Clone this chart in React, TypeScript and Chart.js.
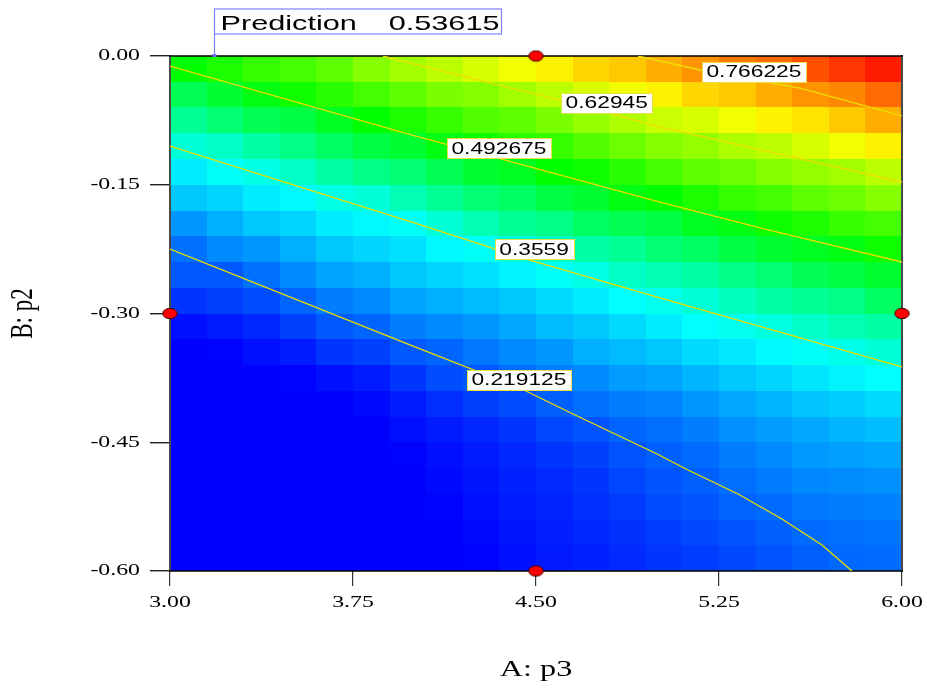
import { useEffect, useRef } from "react";
import { Chart, registerables } from "chart.js";

Chart.register(...registerables);

// Factor ranges and axis ticks
const A_RANGE = [3, 6];
const B_RANGE = [-0.6, 0];
const A_TICKS = [3.0, 3.75, 4.5, 5.25, 6.0];
const B_TICKS = [-0.6, -0.45, -0.3, -0.15, 0];

// Predicted response per grid cell, one row per B band (top band first),
// columns run from A = 3.00 to A = 6.00.
const zB015 = [0.50, 0.52, 0.54, 0.55, 0.57, 0.60, 0.62, 0.64, 0.66, 0.68, 0.70, 0.72, 0.73, 0.75, 0.77, 0.79, 0.80, 0.82, 0.84, 0.86];
const zB045 = [0.45, 0.47, 0.49, 0.51, 0.53, 0.55, 0.57, 0.59, 0.60, 0.62, 0.64, 0.66, 0.68, 0.70, 0.72, 0.73, 0.75, 0.77, 0.78, 0.80];
const zB075 = [0.41, 0.43, 0.45, 0.46, 0.48, 0.50, 0.52, 0.54, 0.56, 0.57, 0.59, 0.61, 0.63, 0.65, 0.66, 0.68, 0.70, 0.71, 0.73, 0.75];
const zB105 = [0.37, 0.38, 0.40, 0.42, 0.44, 0.46, 0.47, 0.49, 0.51, 0.53, 0.54, 0.56, 0.58, 0.60, 0.61, 0.63, 0.64, 0.66, 0.68, 0.70];
const zB135 = [0.33, 0.35, 0.36, 0.38, 0.40, 0.42, 0.43, 0.45, 0.47, 0.48, 0.50, 0.51, 0.53, 0.55, 0.57, 0.58, 0.60, 0.61, 0.62, 0.64];
const zB165 = [0.30, 0.31, 0.33, 0.34, 0.36, 0.37, 0.39, 0.41, 0.43, 0.44, 0.46, 0.47, 0.49, 0.50, 0.52, 0.54, 0.55, 0.57, 0.58, 0.60];
const zB195 = [0.26, 0.28, 0.30, 0.31, 0.33, 0.34, 0.35, 0.37, 0.39, 0.41, 0.42, 0.44, 0.45, 0.46, 0.48, 0.49, 0.51, 0.52, 0.54, 0.55];
const zB225 = [0.23, 0.25, 0.26, 0.28, 0.30, 0.31, 0.32, 0.34, 0.35, 0.37, 0.38, 0.40, 0.41, 0.43, 0.44, 0.46, 0.47, 0.48, 0.49, 0.51];
const zB255 = [0.21, 0.21, 0.23, 0.25, 0.27, 0.28, 0.30, 0.31, 0.32, 0.335, 0.35, 0.36, 0.38, 0.39, 0.40, 0.42, 0.43, 0.45, 0.46, 0.47];
const zB285 = [0.18, 0.19, 0.20, 0.22, 0.24, 0.25, 0.27, 0.28, 0.29, 0.30, 0.315, 0.33, 0.345, 0.355, 0.37, 0.385, 0.40, 0.41, 0.42, 0.44];
const zB315 = [0.15, 0.16, 0.17, 0.19, 0.21, 0.22, 0.24, 0.25, 0.26, 0.275, 0.29, 0.30, 0.315, 0.33, 0.345, 0.355, 0.365, 0.378, 0.39, 0.40];
const zB345 = [0.13, 0.14, 0.15, 0.16, 0.18, 0.19, 0.21, 0.22, 0.235, 0.25, 0.26, 0.28, 0.29, 0.30, 0.315, 0.327, 0.34, 0.35, 0.358, 0.37];
const zB375 = [0.12, 0.12, 0.13, 0.14, 0.15, 0.16, 0.18, 0.20, 0.21, 0.225, 0.24, 0.25, 0.265, 0.27, 0.285, 0.30, 0.31, 0.325, 0.335, 0.345];
const zB405 = [0.11, 0.11, 0.12, 0.12, 0.13, 0.145, 0.16, 0.175, 0.19, 0.20, 0.215, 0.23, 0.24, 0.245, 0.26, 0.275, 0.285, 0.298, 0.305, 0.315];
const zB435 = [0.10, 0.10, 0.11, 0.11, 0.12, 0.13, 0.15, 0.16, 0.17, 0.18, 0.195, 0.205, 0.22, 0.228, 0.24, 0.255, 0.265, 0.275, 0.285, 0.292];
const zB465 = [0.10, 0.10, 0.10, 0.11, 0.11, 0.12, 0.14, 0.15, 0.16, 0.17, 0.18, 0.19, 0.205, 0.215, 0.225, 0.24, 0.25, 0.262, 0.268, 0.272];
const zB495 = [0.09, 0.09, 0.10, 0.10, 0.11, 0.11, 0.13, 0.145, 0.155, 0.165, 0.172, 0.18, 0.195, 0.207, 0.215, 0.228, 0.237, 0.248, 0.252, 0.256];
const zB525 = [0.09, 0.09, 0.09, 0.10, 0.10, 0.11, 0.12, 0.14, 0.15, 0.16, 0.167, 0.175, 0.185, 0.199, 0.207, 0.218, 0.226, 0.236, 0.24, 0.243];
const zB555 = [0.08, 0.09, 0.09, 0.09, 0.10, 0.10, 0.12, 0.135, 0.145, 0.155, 0.162, 0.17, 0.178, 0.188, 0.197, 0.207, 0.216, 0.226, 0.23, 0.233];
const zB585 = [0.08, 0.08, 0.09, 0.09, 0.09, 0.10, 0.11, 0.13, 0.14, 0.15, 0.158, 0.165, 0.172, 0.18, 0.188, 0.197, 0.206, 0.216, 0.223, 0.225];

const responseRows = [
  zB015, zB045, zB075, zB105, zB135, zB165, zB195, zB225, zB255, zB285,
  zB315, zB345, zB375, zB405, zB435, zB465, zB495, zB525, zB555, zB585,
];

// Contour levels and their traced paths (A, B)
const contourLevels = [0.219125, 0.3559, 0.492675, 0.62945, 0.766225];

const contour1A = [3.0, 4.004, 4.434, 4.66, 4.988, 5.123, 5.328, 5.508, 5.672, 5.795];
const contour1B = [-0.2249, -0.339, -0.3868, -0.4183, -0.4625, -0.4823, -0.5103, -0.5394, -0.5697, -0.6];
const contour2A = [3.0, 4.004, 4.475, 5.008, 6.0];
const contour2B = [-0.1049, -0.1946, -0.2377, -0.2819, -0.3623];
const contour3A = [3.0, 4.004, 4.34, 5.008, 5.451, 6.0];
const contour3B = [-0.0117, -0.0932, -0.1188, -0.1701, -0.2027, -0.24];
const contour4A = [3.873, 3.984, 4.598, 5.008, 6.0];
const contour4B = [0, -0.0082, -0.0513, -0.0827, -0.1468];
const contour5A = [4.918, 5.172, 5.582, 6.0];
const contour5B = [0, -0.0163, -0.0373, -0.0699];

const contourPathsA = [contour1A, contour2A, contour3A, contour4A, contour5A];
const contourPathsB = [contour1B, contour2B, contour3B, contour4B, contour5B];

// Where each contour's value label sits (A, B)
const labelA = [4.43, 4.492, 4.348, 4.79, 5.393];
const labelB = [-0.3771, -0.2251, -0.1075, -0.0544, -0.0181];

// Design points
const designA = [4.5, 3.0, 6.0, 4.5];
const designB = [0, -0.3, -0.3, -0.6];

// Prediction flag
const predictionA = 3.18;
const predictionB = 0;
const predictionValue = 0.53615;

const X_TITLE = "A: p3";
const Y_TITLE = "B: p2";

// Colour ramp: blue -> cyan -> green -> yellow -> red
const rampValues = [0.138, 0.345, 0.5, 0.69, 0.88];
const rampColors = [
  [0, 0, 255],
  [0, 255, 255],
  [0, 255, 0],
  [255, 255, 0],
  [255, 0, 0],
];

function surfaceColor(v: number): string {
  if (v <= rampValues[0]) return `rgb(${rampColors[0].join(",")})`;
  const last = rampValues.length - 1;
  if (v >= rampValues[last]) return `rgb(${rampColors[last].join(",")})`;
  for (let k = 0; k < last; k++) {
    if (v <= rampValues[k + 1]) {
      const t = (v - rampValues[k]) / (rampValues[k + 1] - rampValues[k]);
      const c0 = rampColors[k];
      const c1 = rampColors[k + 1];
      const c = c0.map((ch, n) => Math.round(ch + (c1[n] - ch) * t));
      return `rgb(${c.join(",")})`;
    }
  }
  return "rgb(255,0,0)";
}

function drawText(
  ctx: CanvasRenderingContext2D,
  text: string,
  x: number,
  y: number,
  font: string,
  align: CanvasTextAlign,
  baseline: CanvasTextBaseline,
  sx: number,
  rotated = false
) {
  ctx.save();
  ctx.font = font;
  ctx.textAlign = align;
  ctx.textBaseline = baseline;
  ctx.fillStyle = "#000";
  ctx.translate(x, y);
  ctx.scale(sx, 1);
  if (rotated) ctx.rotate(-Math.PI / 2);
  ctx.fillText(text, 0, 0);
  ctx.restore();
}

const AXIS_FONT = '17px "Liberation Serif", "Times New Roman", serif';
const TITLE_FONT = '23px "Liberation Serif", "Times New Roman", serif';
const LABEL_FONT = '17px "Liberation Sans", Arial, sans-serif';
const FLAG_FONT = '21px "Liberation Sans", Arial, sans-serif';
const SERIF_SX = 1.4;
const LABEL_SX = 1.34;
const FLAG_SX = 1.46;

function fmt(v: number): string {
  return (Math.abs(v) < 1e-9 ? 0 : v).toFixed(2);
}

const surfacePlugin = {
  id: "responseSurface",
  beforeDatasetsDraw(chart: any) {
    const { ctx, chartArea: ca } = chart;
    const xs = chart.scales.x;
    const ys = chart.scales.y;
    const nRows = responseRows.length;
    const bSpan = B_RANGE[1] - B_RANGE[0];
    const aSpan = A_RANGE[1] - A_RANGE[0];
    ctx.save();
    responseRows.forEach((row, j) => {
      const nCols = row.length;
      const y0 = Math.round(ys.getPixelForValue(B_RANGE[1] - (j * bSpan) / nRows));
      const y1 = Math.round(ys.getPixelForValue(B_RANGE[1] - ((j + 1) * bSpan) / nRows));
      row.forEach((v, i) => {
        const x0 = Math.round(xs.getPixelForValue(A_RANGE[0] + (i * aSpan) / nCols));
        const x1 = Math.round(xs.getPixelForValue(A_RANGE[0] + ((i + 1) * aSpan) / nCols));
        ctx.fillStyle = surfaceColor(v);
        ctx.fillRect(x0, y0, x1 - x0, y1 - y0);
      });
    });
    // plot frame
    ctx.lineCap = "square";
    ctx.strokeStyle = "#4a4a4a";
    ctx.lineWidth = 2;
    ctx.beginPath();
    ctx.moveTo(ca.left, ca.top);
    ctx.lineTo(ca.left, ca.bottom);
    ctx.moveTo(ca.right, ca.top);
    ctx.lineTo(ca.right, ca.bottom);
    ctx.stroke();
    ctx.strokeStyle = "#000";
    ctx.lineWidth = 1.6;
    ctx.beginPath();
    ctx.moveTo(ca.left, ca.top);
    ctx.lineTo(ca.right, ca.top);
    ctx.moveTo(ca.left, ca.bottom);
    ctx.lineTo(ca.right, ca.bottom);
    ctx.stroke();
    ctx.restore();
  },
  afterDatasetsDraw(chart: any) {
    const { ctx } = chart;
    const xs = chart.scales.x;
    const ys = chart.scales.y;
    contourLevels.forEach((level, k) => {
      const text = String(level);
      const cx = xs.getPixelForValue(labelA[k]);
      const cy = ys.getPixelForValue(labelB[k]);
      ctx.save();
      ctx.font = LABEL_FONT;
      const w = ctx.measureText(text).width * LABEL_SX + 9;
      const h = 20;
      ctx.fillStyle = "#fff";
      ctx.fillRect(Math.round(cx - w / 2), Math.round(cy - h / 2), Math.round(w), h);
      ctx.strokeStyle = "rgb(232,222,70)";
      ctx.lineWidth = 1;
      ctx.strokeRect(Math.round(cx - w / 2) + 0.5, Math.round(cy - h / 2) + 0.5, Math.round(w), h);
      ctx.restore();
      drawText(ctx, text, cx, cy + 1, LABEL_FONT, "center", "middle", LABEL_SX);
    });
  },
  afterDraw(chart: any) {
    const { ctx, chartArea: ca } = chart;
    const xs = chart.scales.x;
    const ys = chart.scales.y;
    // tick labels
    xs.ticks.forEach((t: any) => {
      drawText(ctx, fmt(t.value), xs.getPixelForValue(t.value), ca.bottom + 32, AXIS_FONT, "center", "middle", SERIF_SX);
    });
    ys.ticks.forEach((t: any) => {
      drawText(ctx, fmt(t.value), ca.left - 30, ys.getPixelForValue(t.value), AXIS_FONT, "right", "middle", SERIF_SX);
    });
    // axis titles
    drawText(ctx, X_TITLE, (ca.left + ca.right) / 2, ca.bottom + 99, TITLE_FONT, "center", "middle", SERIF_SX);
    drawText(ctx, Y_TITLE, 24, (ca.top + ca.bottom) / 2, TITLE_FONT, "center", "middle", SERIF_SX, true);

    // prediction flag
    const px = Math.round(xs.getPixelForValue(predictionA)) + 0.5;
    const py = ys.getPixelForValue(predictionB);
    const boxTop = py - 47;
    const boxH = 25;
    const boxW = 287;
    ctx.save();
    ctx.fillStyle = "#fff";
    ctx.fillRect(px, boxTop, boxW, boxH);
    ctx.strokeStyle = "rgb(128,128,255)";
    ctx.lineWidth = 1.2;
    ctx.strokeRect(px, boxTop, boxW, boxH);
    ctx.beginPath();
    ctx.moveTo(px, boxTop + boxH);
    ctx.lineTo(px, py);
    ctx.stroke();
    ctx.fillStyle = "rgb(110,110,255)";
    ctx.fillRect(px - 2, py - 2, 4, 3);
    ctx.restore();
    drawText(ctx, "Prediction", px + 6, boxTop + 21, FLAG_FONT, "left", "alphabetic", FLAG_SX);
    drawText(ctx, String(predictionValue), px + boxW - 2, boxTop + 21, FLAG_FONT, "right", "alphabetic", FLAG_SX);
  },
};

function makeDesignDot(): HTMLCanvasElement {
  const c = document.createElement("canvas");
  c.width = 17;
  c.height = 13;
  const g = c.getContext("2d")!;
  g.beginPath();
  g.ellipse(8.5, 6.5, 7.2, 5.2, 0, 0, Math.PI * 2);
  g.fillStyle = "#ff0000";
  g.fill();
  g.strokeStyle = "#3a0000";
  g.lineWidth = 1;
  g.stroke();
  return c;
}

export default function App() {
  const canvasRef = useRef<HTMLCanvasElement | null>(null);

  useEffect(() => {
    const canvas = canvasRef.current;
    if (!canvas) return;

    const contourSets = contourLevels.map((level, k) => ({
      type: "scatter" as const,
      label: String(level),
      data: contourPathsA[k].map((a, n) => ({ x: a, y: contourPathsB[k][n] })),
      showLine: true,
      borderColor: "rgb(236,222,0)",
      borderWidth: 1.3,
      pointRadius: 0,
      fill: false,
      tension: 0,
    }));

    const chart = new Chart(canvas, {
      type: "scatter",
      data: {
        datasets: [
          ...contourSets,
          {
            type: "scatter" as const,
            label: "Design points",
            data: designA.map((a, n) => ({ x: a, y: designB[n] })),
            pointStyle: makeDesignDot(),
            pointRadius: 7,
            clip: false,
          } as any,
        ],
      },
      options: {
        responsive: false,
        animation: false,
        devicePixelRatio: 1,
        events: [],
        layout: { padding: { top: 56, right: 24, left: 0, bottom: 0 } },
        plugins: {
          legend: { display: false },
          tooltip: { enabled: false },
        },
        scales: {
          x: {
            type: "linear",
            min: A_RANGE[0],
            max: A_RANGE[1],
            afterBuildTicks: (s: any) => {
              s.ticks = A_TICKS.map((v) => ({ value: v }));
            },
            afterFit: (s: any) => {
              s.height = 118;
            },
            ticks: { display: false },
            border: { display: false },
            grid: {
              display: true,
              drawOnChartArea: false,
              drawTicks: true,
              tickLength: 15,
              color: "#333",
              lineWidth: 1.2,
            },
          },
          y: {
            type: "linear",
            min: B_RANGE[0],
            max: B_RANGE[1],
            afterBuildTicks: (s: any) => {
              s.ticks = B_TICKS.map((v) => ({ value: v }));
            },
            afterFit: (s: any) => {
              s.width = 170;
            },
            ticks: { display: false },
            border: { display: false },
            grid: {
              display: true,
              drawOnChartArea: false,
              drawTicks: true,
              tickLength: 20,
              color: "#222",
              lineWidth: 1.4,
            },
          },
        },
      },
      plugins: [surfacePlugin],
    });

    return () => chart.destroy();
  }, []);

  return (
    <div style={{ position: "fixed", left: 0, top: 0, width: 926, height: 689, background: "#fff" }}>
      <canvas ref={canvasRef} width={926} height={689} />
    </div>
  );
}
